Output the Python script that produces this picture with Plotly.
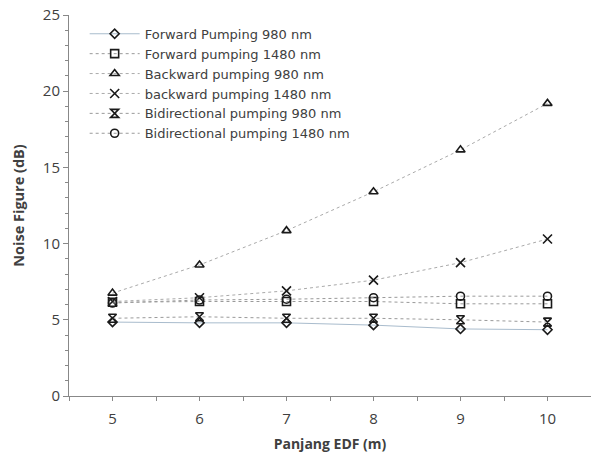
import plotly.graph_objects as go

edf_length = [5, 6, 7, 8, 9, 10]
series_names = [
    "Forward Pumping 980 nm",
    "Forward pumping 1480 nm",
    "Backward pumping 980 nm",
    "backward pumping 1480 nm",
    "Bidirectional pumping 980 nm",
    "Bidirectional pumping 1480 nm",
]
fwd_980 = [4.85, 4.8, 4.8, 4.65, 4.4, 4.35]
fwd_1480 = [6.15, 6.2, 6.2, 6.2, 6.05, 6.05]
bwd_980 = [6.75, 8.6, 10.85, 13.4, 16.15, 19.2]
bwd_1480 = [6.2, 6.45, 6.9, 7.6, 8.75, 10.3]
bid_980 = [5.1, 5.2, 5.1, 5.1, 5.0, 4.85]
bid_1480 = [6.1, 6.3, 6.35, 6.45, 6.55, 6.55]

values = [fwd_980, fwd_1480, bwd_980, bwd_1480, bid_980, bid_1480]
symbols = ["diamond-open", "square-open", "triangle-up-open", "x-thin-open", "hourglass-open", "circle-open"]
sizes = [7, 8, 8, 9, 8, 8]
line_colors = ["#a9bccd", "#9a9a9a", "#aaaaaa", "#aaaaaa", "#9a9a9a", "#9a9a9a"]
dashes = ["solid", "dot", "dot", "dot", "dot", "dot"]

fig = go.Figure()
for name, vals, sym, sz, lc, ds in zip(series_names, values, symbols, sizes, line_colors, dashes):
    fig.add_trace(go.Scatter(
        x=edf_length, y=vals, name=name, mode="lines+markers",
        line=dict(color=lc, width=1, dash=ds),
        marker=dict(symbol=sym, size=sz, color="#1a1a1a", line=dict(color="#1a1a1a", width=1.6)),
    ))

fig.update_layout(
    width=591, height=457,
    margin=dict(l=69, r=0, t=15, b=61),
    paper_bgcolor="white", plot_bgcolor="white",
    font=dict(family="Open Sans, sans-serif", size=14, color="#404040"),
    showlegend=True,
    legend=dict(x=0.03, y=0.99, xanchor="left", yanchor="top",
                bgcolor="rgba(255,255,255,0)", itemwidth=50,
                font=dict(family="DejaVu Sans, sans-serif", size=13, color="#404040"),
                tracegroupgap=0),
    xaxis=dict(range=[4.5, 10.5], tickvals=edf_length, showgrid=False, zeroline=False,
               automargin=False,
               showline=True, linecolor="#888", linewidth=1,
               ticks="outside", ticklen=4, tickcolor="#888", ticklabelstandoff=5,
               minor=dict(dtick=0.5, tick0=4.5, ticks="outside", ticklen=4, tickcolor="#888"),
               title=dict(text="<b>Panjang EDF (m)</b>", font=dict(size=14, color="#404040"), standoff=12),
               tickfont=dict(size=15, color="#404040")),
    yaxis=dict(range=[0, 25], dtick=5, showgrid=False, zeroline=False,
               automargin=False,
               showline=True, linecolor="#888", linewidth=1,
               ticks="outside", ticklen=5, tickcolor="#888",
               minor=dict(dtick=1, ticks="outside", ticklen=3, tickcolor="#888"),
               title=dict(text="<b>Noise Figure (dB)</b>", font=dict(size=14.5, color="#404040"), standoff=14),
               tickfont=dict(size=15, color="#404040")),
)

fig.write_html("out.html", config={"displayModeBar": False},
               post_script="document.body.style.margin='0';")
